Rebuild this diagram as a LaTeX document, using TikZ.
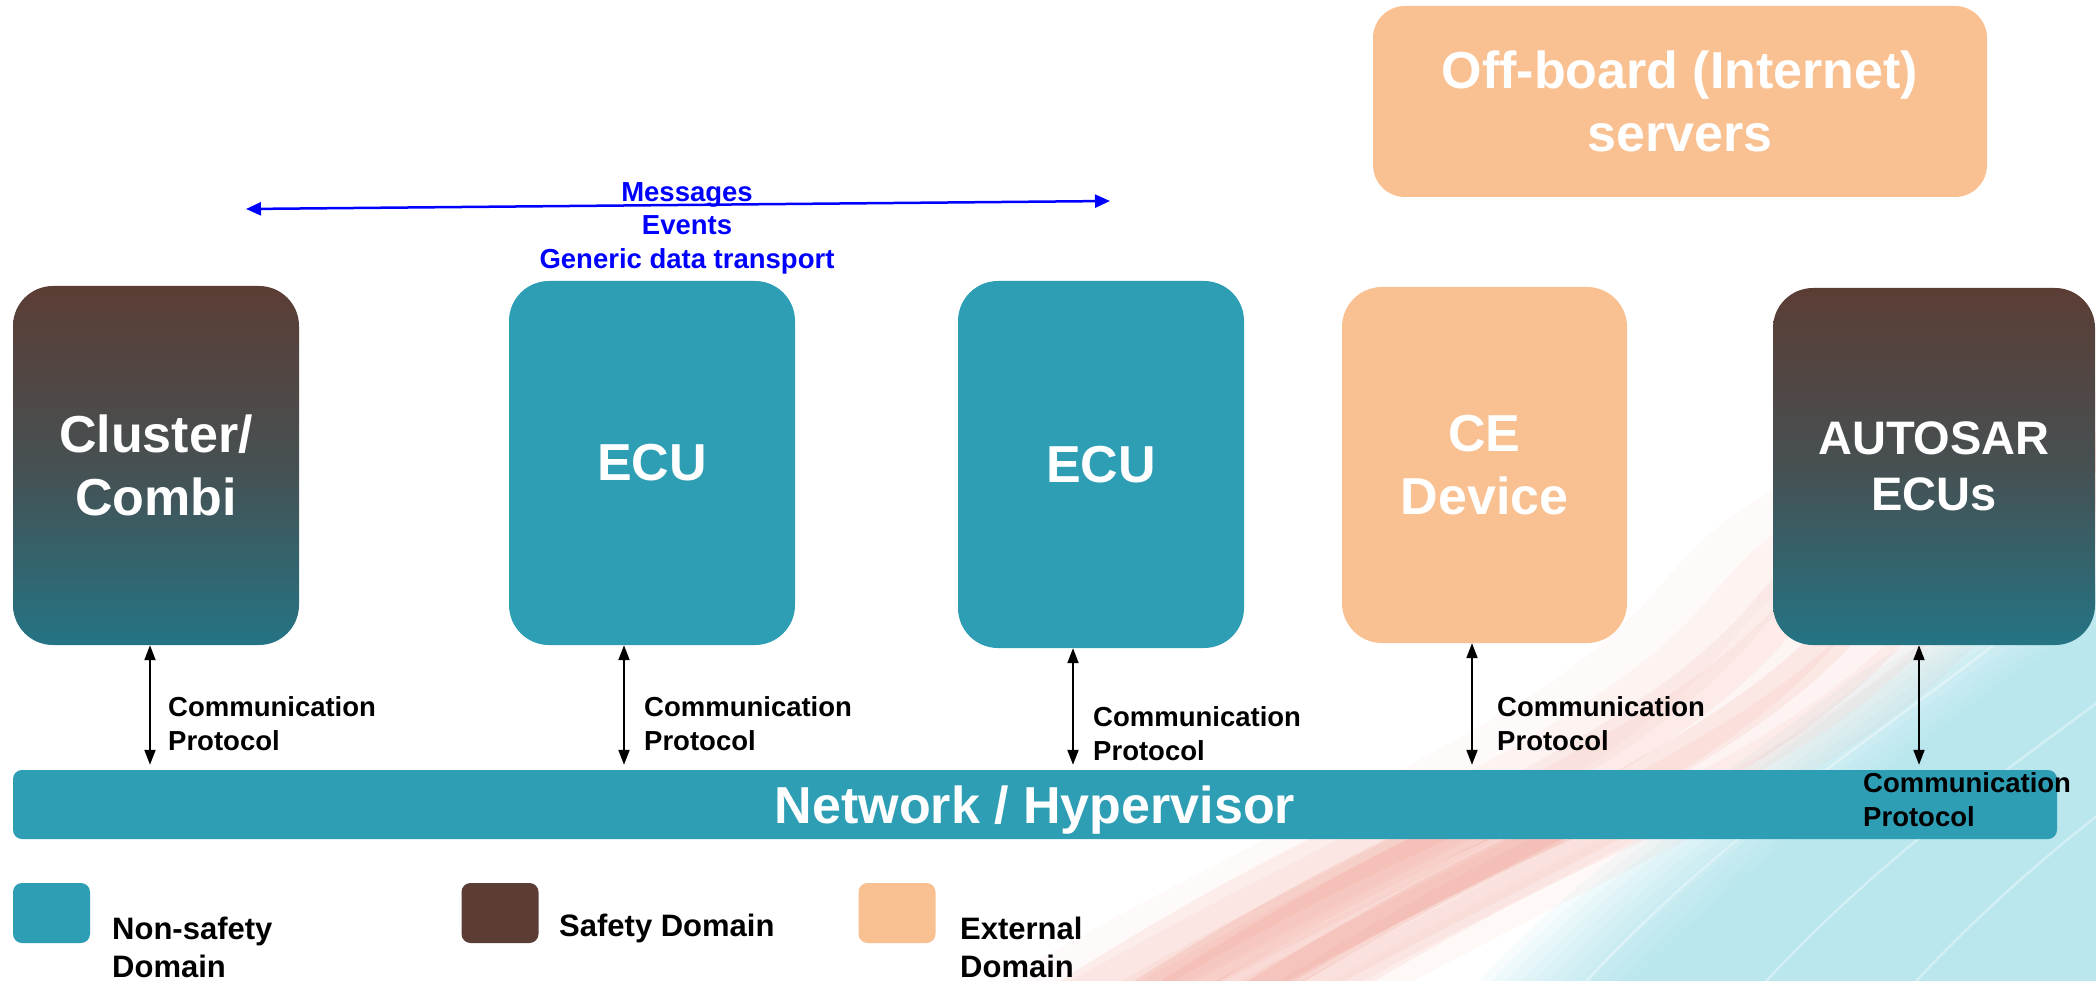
\documentclass[tikz,border=0pt]{standalone}
\usepackage{fontspec}
\setmainfont{Liberation Sans}
\usepackage{xcolor}
\usepackage{tikz}
\usetikzlibrary{arrows.meta}

\definecolor{nonsafe}{RGB}{46,158,181}
\definecolor{safe}{RGB}{92,61,53}
\definecolor{safemid}{RGB}{70,80,82}
\definecolor{safelow}{RGB}{36,116,132}
\definecolor{extern}{RGB}{249,193,146}
\definecolor{msgblue}{RGB}{0,0,255}
\definecolor{swsalmon}{RGB}{236,140,125}
\definecolor{swcyan}{RGB}{140,214,226}

\newcommand{\boxfont}{\fontsize{52}{63}\selectfont\bfseries}
\newcommand{\autofont}{\fontsize{47}{56}\selectfont\bfseries}
\newcommand{\commfont}{\fontsize{27.5}{34}\selectfont\bfseries}
\newcommand{\legfont}{\fontsize{31}{38}\selectfont\bfseries}

\tikzstyle{unitbox} = [rounded corners=40pt, inner sep=0pt, align=center, text=white, font=\boxfont]
\tikzstyle{nsbox} = [unitbox, fill=nonsafe]
\tikzstyle{sbox} = [unitbox, top color=safe, bottom color=safelow, middle color=safemid]
\tikzstyle{extbox} = [unitbox, fill=extern]
\tikzstyle{commarrow} = [{Triangle[length=15pt,width=11pt]}-{Triangle[length=15pt,width=11pt]}, line width=2pt, shorten >=5pt]
\tikzstyle{commlabel} = [anchor=west, align=left, inner sep=0pt, font=\commfont]
\tikzstyle{msgarrow} = [{Triangle[length=15pt,width=13pt]}-{Triangle[length=15pt,width=13pt]}, line width=2.5pt, msgblue]
\tikzstyle{msglabel} = [align=center, inner sep=0pt, text=msgblue, font=\fontsize{27.5}{33.5}\selectfont\bfseries]
\tikzstyle{legsq} = [rounded corners=9pt, inner sep=0pt, minimum width=77pt, minimum height=60pt]
\tikzstyle{leglabel} = [anchor=west, align=left, inner sep=0pt, font=\legfont]

\begin{document}
\begin{tikzpicture}[x=1pt, y=-1pt]
        \useasboundingbox (0,0) rectangle (2096,981);

        % Background swoosh
        \begin{scope}
            \clip (0,0) rectangle (2096,981);
            \foreach \s in {0,14,...,154}
                \fill[swcyan, opacity=0.075, xshift=\s pt] (1470,990) .. controls +(120,-130) and +(-130,100) .. (1850,680) .. controls +(80,-60) and +(-80,30) .. (2120,560) -- (2200,990) -- cycle;
            \foreach \s/\w/\o in {-110/90/0.04, -70/60/0.07, -30/50/0.09, 10/70/0.09, 50/35/0.12, 90/50/0.1, 130/30/0.08, 170/40/0.06}
                \draw[swsalmon, line width=\w pt, opacity=\o, xshift=\s pt] (1150,1010) .. controls (1450,840) and (1680,760) .. (1800,620) .. controls +(60,-70) .. (2110,420);
            \foreach \s/\w/\o in {-80/60/0.12, -20/45/0.18, 30/70/0.15, 80/30/0.2, 130/50/0.1}
                \draw[swsalmon, line width=\w pt, opacity=\o, xshift=\s pt] (1150,1010) .. controls (1300,915) and (1400,865) .. (1520,810);
            \foreach \s in {0,180,330}
                \draw[white, line width=2.5pt, opacity=0.35, xshift=\s pt] (1560,1010) .. controls +(150,-170) and +(-140,110) .. (2000,640);
        \end{scope}

        % Boxes
        \node[sbox, minimum width=286pt, minimum height=359pt] (cluster) at (156,465.5) {Cluster/\\Combi};
        \node[nsbox, minimum width=286pt, minimum height=364pt] (ecuA) at (652,463) {ECU};
        \node[nsbox, minimum width=286pt, minimum height=367pt] (ecuB) at (1101,464.5) {ECU};
        \node[extbox, minimum width=285pt, minimum height=356pt] (ce) at (1484.5,465) {CE\\Device};
        \node[sbox, minimum width=322pt, minimum height=357pt, font=\autofont] (autosar) at (1934,466.5) {AUTOSAR\\ECUs};
        \node[extbox, rounded corners=32pt, minimum width=614pt, minimum height=191pt] (offboard) at (1680,101.5) {Off-board (Internet)\\servers};
        \node[nsbox, rounded corners=9pt, minimum width=2044pt, minimum height=69pt, text depth=0pt] (bar) at (1035,804.5) {Network / Hypervisor};

        % Messages between ECUs
        \coordinate (msgL) at (246,209);
        \coordinate (msgR) at (1110,201);
        \draw[msgarrow] (msgL) -- (msgR);
        \node[msglabel] (msgs) at (687,228) {Messages\\Events\\Generic data transport};

        % Links to the network
        \draw[commarrow] ([xshift=-6pt]cluster.south) -- ([xshift=-6pt]cluster.south |- bar.north);
        \draw[commarrow] ([xshift=-28pt]ecuA.south) -- ([xshift=-28pt]ecuA.south |- bar.north);
        \draw[commarrow] ([xshift=-28pt]ecuB.south) -- ([xshift=-28pt]ecuB.south |- bar.north);
        \draw[commarrow] ([xshift=-12.5pt]ce.south) -- ([xshift=-12.5pt]ce.south |- bar.north);
        \draw[commarrow] ([xshift=-15pt]autosar.south) -- ([xshift=-15pt]autosar.south |- bar.north);

        \node[commlabel] (cpA) at (168,724) {Communication\\Protocol};
        \node[commlabel] (cpB) at (644,724) {Communication\\Protocol};
        \node[commlabel] (cpC) at (1093,734) {Communication\\Protocol};
        \node[commlabel] (cpD) at (1497,724) {Communication\\Protocol};
        \node[commlabel] (cpE) at (1863,800) {Communication\\Protocol};

        % Legend
        \node[legsq, fill=nonsafe] (legNS) at (51.5,913) {};
        \node[leglabel] (txtNS) at (112,947) {Non-safety\\Domain};
        \node[legsq, fill=safe] (legS) at (500,913) {};
        \node[leglabel] (txtS) at (559,928) {Safety Domain};
        \node[legsq, fill=extern] (legE) at (897,913) {};
        \node[leglabel] (txtE) at (960,947) {External\\Domain};
\end{tikzpicture}
\end{document}
